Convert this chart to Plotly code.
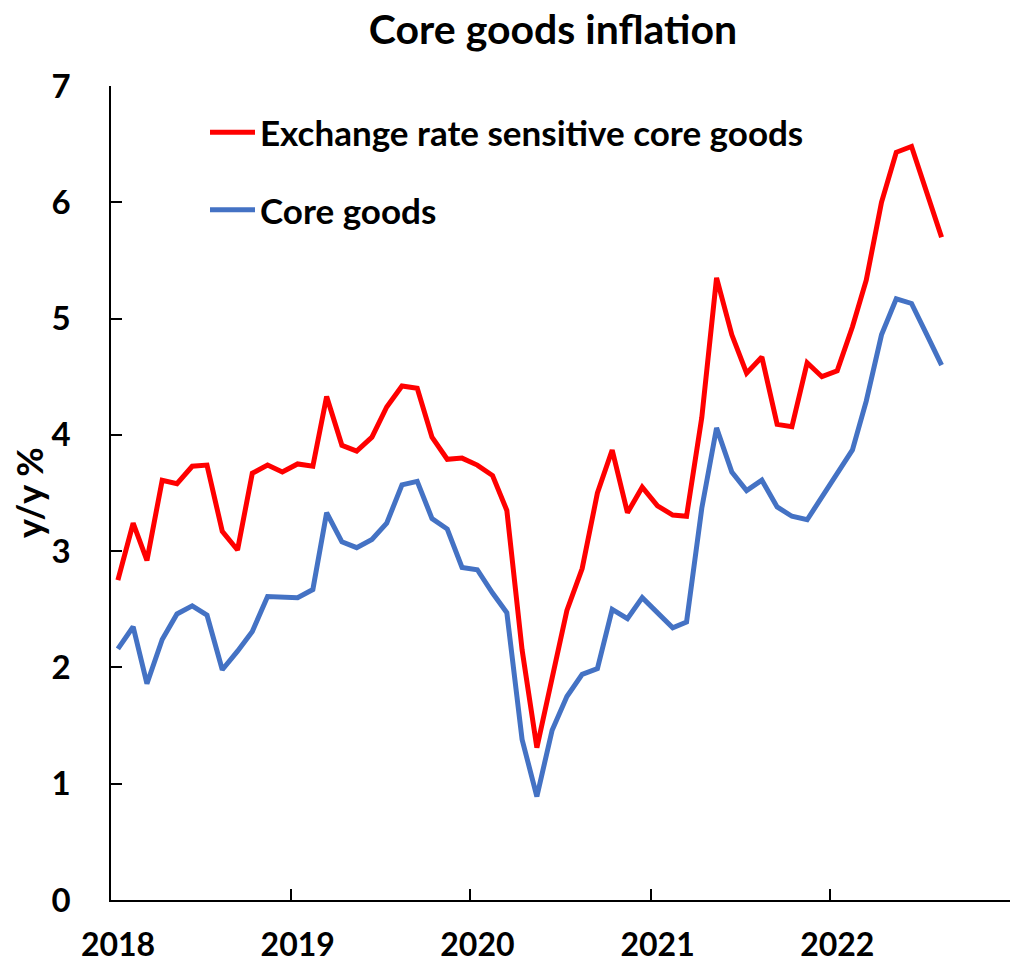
import pandas as pd
import plotly.graph_objects as go

# Monthly observations, Jan 2018 - Aug 2022 (plotted mid-month)
months = pd.date_range("2018-01-01", "2022-08-01", freq="MS") + pd.Timedelta(days=14)

exchange_rate_sensitive = [
    2.75, 3.24, 2.92, 3.61, 3.58, 3.73, 3.74, 3.17, 3.01, 3.67, 3.74, 3.68,
    3.75, 3.73, 4.33, 3.91, 3.86, 3.98, 4.24, 4.42, 4.40, 3.98, 3.79, 3.80,
    3.74, 3.65, 3.35, 2.15, 1.31, 1.89, 2.49, 2.85, 3.50, 3.87, 3.33, 3.55,
    3.39, 3.31, 3.30, 4.15, 5.35, 4.86, 4.53, 4.67, 4.09, 4.07, 4.62, 4.50,
    4.55, 4.93, 5.33, 6.00, 6.43, 6.48, 6.09, 5.70,
]
core_goods = [
    2.16, 2.35, 1.86, 2.24, 2.46, 2.53, 2.45, 1.98, 2.14, 2.31, 2.61, 2.60,
    2.60, 2.67, 3.33, 3.08, 3.03, 3.10, 3.24, 3.57, 3.60, 3.28, 3.19, 2.86,
    2.84, 2.64, 2.47, 1.38, 0.89, 1.46, 1.75, 1.94, 1.99, 2.50, 2.42, 2.60,
    2.47, 2.34, 2.39, 3.37, 4.06, 3.68, 3.52, 3.61, 3.38, 3.30, 3.27, 3.47,
    3.68, 3.87, 4.29, 4.86, 5.17, 5.13, 4.87, 4.60,
]

year_ticks = ["2018-01-01", "2019-01-01", "2020-01-01", "2021-01-01", "2022-01-01", "2023-01-01"]
year_labels = ["2018", "2019", "2020", "2021", "2022", ""]

FONT = "Lato, 'Open Sans', sans-serif"

fig = go.Figure()
fig.add_trace(go.Scatter(
    x=months, y=exchange_rate_sensitive, mode="lines",
    name="Exchange rate sensitive core goods", legendgroup="a",
    line=dict(color="#FF0000", width=5),
))
fig.add_trace(go.Scatter(
    x=months, y=core_goods, mode="lines",
    name="Core goods", legendgroup="b",
    line=dict(color="#4472C4", width=5),
))

fig.update_layout(
    width=1013, height=966,
    margin=dict(l=111, r=3, t=86, b=66, autoexpand=False),
    paper_bgcolor="white", plot_bgcolor="white",
    font=dict(family=FONT, color="black"),
    title=dict(
        text="<b>Core goods inflation</b>",
        font=dict(size=41, family=FONT, color="black"),
        x=553 / 1013, xanchor="center", xref="container",
        y=1 - 30 / 966, yanchor="middle", yref="container",
    ),
    showlegend=True,
    legend=dict(
        x=(205 - 111) / 899, y=0.979, xanchor="left", yanchor="top",
        font=dict(size=35, family=FONT, color="black", weight="bold"),
        traceorder="grouped", tracegroupgap=29, itemwidth=45,
        bgcolor="rgba(0,0,0,0)",
    ),
    annotations=[dict(
        text="<b>y/y %</b>", textangle=-90,
        xref="paper", yref="paper", x=(29 - 111) / 899, y=0.5,
        xanchor="center", yanchor="middle", showarrow=False,
        font=dict(size=36, family=FONT, color="black"),
    )],
)

fig.update_xaxes(
    type="date", range=["2018-01-01", "2023-01-01"],
    tickmode="array", tickvals=year_ticks, ticktext=year_labels,
    ticks="inside", ticklen=11, tickwidth=1.5, tickcolor="black",
    showline=True, linecolor="black", linewidth=1.5,
    showgrid=False, zeroline=False, automargin=False,
    tickfont=dict(size=32, family=FONT, color="black", weight="bold"),
    ticklabelshift=7, ticklabelstandoff=16,
)
fig.update_yaxes(
    range=[0, 7], tickmode="linear", tick0=0, dtick=1,
    ticks="inside", ticklen=11, tickwidth=1.5, tickcolor="black",
    showline=True, linecolor="black", linewidth=1.5,
    showgrid=False, zeroline=False, automargin=False,
    tickfont=dict(size=33, family=FONT, color="black", weight="bold"),
    ticklabelstandoff=32,
)

fig.write_html("out.html")
